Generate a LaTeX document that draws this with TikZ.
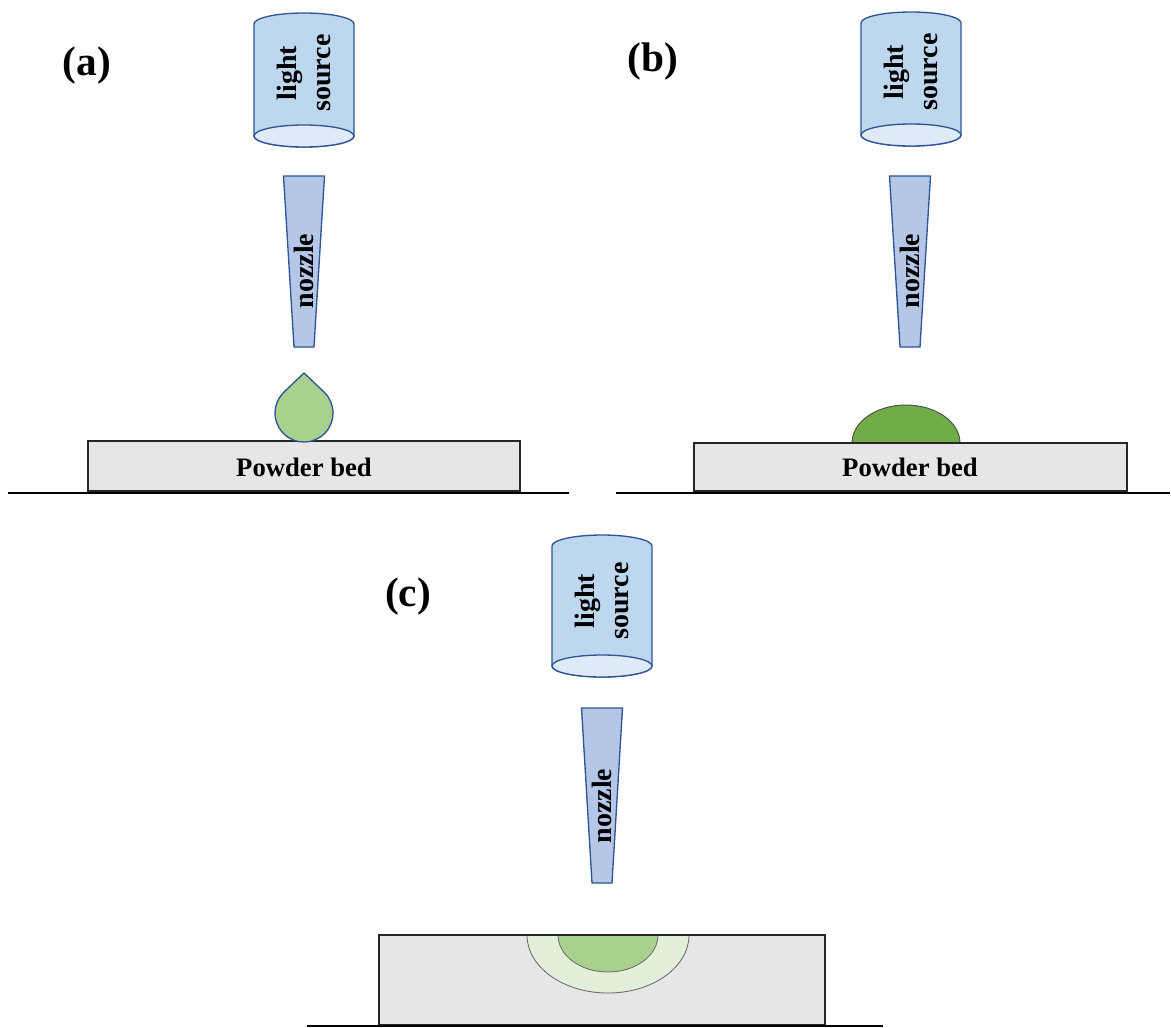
\documentclass[tikz,border=0pt]{standalone}
\usepackage{fontspec}
\setmainfont{Liberation Serif}
\usetikzlibrary{calc}

\definecolor{lampfill}{HTML}{BDD7EE}
\definecolor{lamplens}{HTML}{DEEBF7}
\definecolor{nozzlefill}{HTML}{B4C7E7}
\definecolor{blueedge}{HTML}{2F5597}
\definecolor{dropfill}{HTML}{A9D18E}
\definecolor{domefill}{HTML}{70AD47}
\definecolor{haze}{HTML}{E2EFDA}
\definecolor{bedfill}{HTML}{E6E6E6}

\tikzset{
  blueline/.style={draw=blueedge, line width=1pt},
  tag/.style={font=\fontsize{31}{34}\selectfont\bfseries},
  vtext/.style={font=\fontsize{21}{25}\selectfont\bfseries, rotate=90, align=center, inner sep=0pt},
  bedtext/.style={font=\fontsize{20}{22}\selectfont\bfseries},
  bed/.style={fill=bedfill, draw=black!85, line width=0.8pt},
  ground/.style={draw=black, line width=1.4pt},
  pool/.style={draw=black!60, line width=0.6pt},
}

% light source cylinder: centre x, top ellipse centre y, bottom ellipse centre y, node name, text y
\newcommand{\lampcyl}[5]{%
  \path[fill=lampfill, blueline]
    (#1-50,#2) arc[start angle=180, end angle=360, x radius=50, y radius=11]
    -- (#1+50,#3) arc[start angle=0, end angle=180, x radius=50, y radius=11] -- cycle;
  \path[fill=lamplens, blueline] (#1,#3) ellipse[x radius=50, y radius=11];
  \node[vtext] (#4) at (#1,#5) {light\\source};
}

% tapered nozzle: centre x, top y, bottom y, node name, text y
\newcommand{\nozzleshape}[5]{%
  \path[fill=nozzlefill, blueline]
    (#1-20.5,#2) -- (#1+20.5,#2) -- (#1+10,#3) -- (#1-10,#3) -- cycle;
  \node[vtext] (#4) at (#1,#5) {nozzle};
}

\begin{document}
\begin{tikzpicture}[x=0.75pt, y=-0.75pt]
\useasboundingbox (0,0) rectangle (1171,1028);

% ---------- (a) droplet on the powder bed ----------
\node[tag] (taga) at (87,66) {(a)};
\lampcyl{304}{24}{136}{lampa}{73}
\nozzleshape{304}{176}{347}{nozzlea}{271}
\path[fill=bedfill, bed] (88,441) rectangle (520,491);
\node[bedtext] (beda) at (304,467) {Powder bed};
\path[fill=dropfill, blueline]
  (304,373) -- (324,392) arc[start angle=-46.5, end angle=226.5, radius=29] -- cycle;
\draw[ground] (8,493) -- (569,493);

% ---------- (b) spread melt on the powder bed ----------
\node[tag] (tagb) at (653,62) {(b)};
\lampcyl{911}{23}{135}{lampb}{72}
\nozzleshape{910}{176}{347}{nozzleb}{271}
\path[bed] (694,443) rectangle (1127,491);
\node[bedtext] (bedb) at (910,467) {Powder bed};
\path[fill=domefill, draw=black!70, line width=0.7pt]
  (852,443) arc[start angle=180, end angle=360, x radius=54, y radius=38] -- cycle;
\draw[black!85, line width=0.8pt] (694,443) -- (1127,443);
\draw[ground] (616,493) -- (1170,493);

% ---------- (c) melt pool within the bed ----------
\node[tag] (tagc) at (408,597) {(c)};
\lampcyl{602}{546}{666}{lampc}{601}
\nozzleshape{602}{708}{883}{nozzlec}{806}
\path[fill=bedfill] (379,935) rectangle (825,1025);
\path[fill=haze, pool]
  (527,935) arc[start angle=180, end angle=0, x radius=81, y radius=58] -- cycle;
\path[fill=dropfill, pool]
  (558,935) arc[start angle=180, end angle=0, x radius=50, y radius=37] -- cycle;
\draw[black!85, line width=0.8pt] (379,935) rectangle (825,1025);
\draw[ground] (307,1026) -- (883,1026);
\end{tikzpicture}
\end{document}
